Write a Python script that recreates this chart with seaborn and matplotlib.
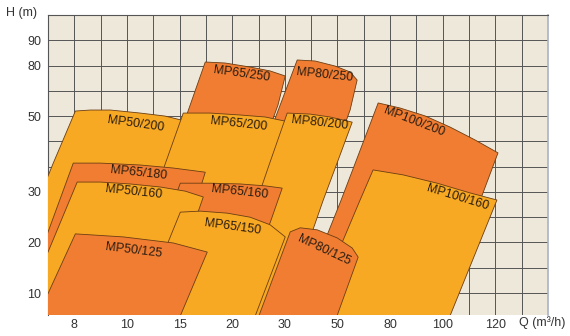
import numpy as np
import matplotlib
matplotlib.use("Agg")
import matplotlib.pyplot as plt
import seaborn as sns
from matplotlib.ticker import FixedLocator

sns.set_style("white")
plt.rcParams["font.family"] = ["Liberation Sans", "DejaVu Sans"]

# ---- axis tick values (non-linear, evenly spaced on the chart) ----
X_TICKS = [8, 10, 15, 20, 30, 50, 80, 100, 120]
Y_TICKS = [10, 20, 30, 50, 80, 90]

# scale anchors: value -> grid cell
X_ANCHOR_VAL = [7, 8, 10, 15, 20, 30, 50, 80, 100, 120, 140]
X_ANCHOR_CELL = [-1, 0, 2, 4, 6, 8, 10, 12, 14, 16, 18]
Y_ANCHOR_VAL = [5, 10, 20, 30, 50, 80, 90, 100]
Y_ANCHOR_CELL = [-1, 0, 2, 4, 7, 9, 10, 11]

# ---- pump envelopes (Q in m3/h, H in m), drawn back to front ----
MP65_250_Q = [17.44, 19.34, 23.42, 27.2, 30.15, 28.7, 16.97, 9.56]
MP65_250_H = [81.4, 81.0, 79.1, 76.8, 73.8, 56.6, 5, 5]

MP80_250_Q = [34.7, 41.5, 49.1, 57.2, 61.2, 57.2, 28.0, 16.9]
MP80_250_H = [82.2, 81.8, 79.7, 76.2, 71.4, 53.6, 5, 5]

MP100_200_Q = [73.2, 83.8, 93.3, 102.8, 112.3, 121.0, 115.3, 97.1, 33.9, 46.1, 52.1]
MP100_200_H = [57.8, 54.8, 50.1, 47.1, 43.7, 40.3, 29.8, 5, 5, 21.5, 28.4]

MP50_200_Q = [8.04, 8.61, 9.37, 11.26, 13.64, 15.54, 17.25, 16.02, 11.26, 4.81, 7.20]
MP50_200_H = [53.0, 53.6, 53.6, 51.8, 50.0, 48.7, 46.9, 36.3, 5, 5, 37.6]

MP65_200_Q = [15.35, 17.92, 21.52, 26.27, 32.05, 19.34, 9.37]
MP65_200_H = [51.8, 51.8, 50.65, 49.76, 48.4, 5, 5]

MP80_200_Q = [30.9, 39.6, 47.2, 58.4, 50.4, 44.6, 40.0, 29.7, 18.5, 27.2]
MP80_200_H = [51.8, 51.2, 49.76, 48.4, 38.4, 28.4, 21.5, 5, 5, 37.9]

MP100_160_Q = [70.3, 84.9, 97.9, 110.4, 120.6, 102.4, 39.6, 62.9]
MP100_160_H = [35.8, 34.5, 32.3, 29.8, 28.4, 5, 5, 28.4]

MP65_180_Q = [7.96, 8.99, 11.26, 14.4, 17.44, 13.16, 5.80]
MP65_180_H = [37.6, 37.6, 37.1, 36.3, 35.2, 5, 5]

MP65_160_Q = [15.07, 17.92, 21.5, 26.27, 29.5, 27.2, 19.34, 10.3]
MP65_160_H = [32.3, 32.3, 32.1, 31.6, 31.0, 23.9, 5, 5]

MP50_160_Q = [8.11, 8.99, 10.31, 13.16, 15.54, 17.25, 13.26, 5.95]
MP50_160_H = [32.6, 32.6, 32.1, 31.3, 30.2, 29.0, 5, 5]

MP65_150_Q = [15.07, 16.97, 19.53, 23.4, 27.2, 30.15, 24.2, 10.98, 13.92]
MP65_150_H = [26.0, 26.2, 25.8, 25.0, 23.5, 21.1, 5, 5, 20.1]

MP50_125_Q = [8.04, 9.86, 14.4, 17.63, 14.97, 6.56, 7.01]
MP50_125_H = [21.7, 21.1, 19.9, 18.1, 5, 5, 10]

MP80_125_Q = [32.05, 35.85, 42.3, 49.9, 58.4, 61.8, 49.5, 24.9]
MP80_125_H = [22.1, 22.9, 22.5, 20.9, 18.9, 17.1, 5, 5]

NAMES = ["MP65/250", "MP80/250", "MP100/200", "MP50/200", "MP65/200", "MP80/200",
         "MP100/160", "MP65/180", "MP65/160", "MP50/160", "MP65/150", "MP50/125",
         "MP80/125"]
KINDS = ["o", "o", "o", "y", "y", "y", "y", "o", "o", "y", "y", "o", "o"]

# label anchor points (Q, H) and text angles
LABEL_Q = [21.7, 45.3, 89.1, 10.79, 21.3, 43.4, 105.5, 11.07, 21.5, 10.69, 20.0, 10.6, 45.0]
LABEL_H = [75.0, 74.4, 48.4, 47.9, 47.9, 48.2, 28.8, 35.0, 30.0, 30.0, 23.1, 18.5, 18.5]
LABEL_ROT = [-8, -6, -21, -8, -6, -6, -17, -6, -6, -6, -8, -7, -25]

SHAPES = [
    (MP65_250_Q, MP65_250_H), (MP80_250_Q, MP80_250_H), (MP100_200_Q, MP100_200_H),
    (MP50_200_Q, MP50_200_H), (MP65_200_Q, MP65_200_H), (MP80_200_Q, MP80_200_H),
    (MP100_160_Q, MP100_160_H), (MP65_180_Q, MP65_180_H), (MP65_160_Q, MP65_160_H),
    (MP50_160_Q, MP50_160_H), (MP65_150_Q, MP65_150_H), (MP50_125_Q, MP50_125_H),
    (MP80_125_Q, MP80_125_H),
]

ORANGE = "#F07D32"
YELLOW = "#F8A923"
palette = sns.color_palette([ORANGE, YELLOW])
COLORS = {"o": palette[0], "y": palette[1]}


def piecewise(v, a, b):
    a = np.asarray(a, float)
    b = np.asarray(b, float)
    v = np.asarray(v, dtype=float)
    flat = np.atleast_1d(v).ravel().copy()
    out = np.interp(flat, a, b)
    lo = flat < a[0]
    out[lo] = b[0] + (flat[lo] - a[0]) * (b[1] - b[0]) / (a[1] - a[0])
    hi = flat > a[-1]
    out[hi] = b[-1] + (flat[hi] - a[-1]) * (b[-1] - b[-2]) / (a[-1] - a[-2])
    return out.reshape(v.shape)


fx = lambda v: piecewise(v, X_ANCHOR_VAL, X_ANCHOR_CELL)
ix = lambda v: piecewise(v, X_ANCHOR_CELL, X_ANCHOR_VAL)
fy = lambda v: piecewise(v, Y_ANCHOR_VAL, Y_ANCHOR_CELL)
iy = lambda v: piecewise(v, Y_ANCHOR_CELL, Y_ANCHOR_VAL)

fig = plt.figure(figsize=(5.7, 3.36), dpi=100)
ax = fig.add_axes([48 / 570, 21 / 336, 500 / 570, 300 / 336])
ax.set_xscale("function", functions=(fx, ix))
ax.set_yscale("function", functions=(fy, iy))
ax.set_xlim(float(ix(-1)), float(ix(18)))
ax.set_ylim(float(iy(-0.87)), float(iy(11)))
ax.set_facecolor("#EEE8DA")

ax.set_xticks(X_TICKS)
ax.set_xticklabels([str(v) for v in X_TICKS])
ax.set_yticks(Y_TICKS)
ax.set_yticklabels([str(v) for v in Y_TICKS])
ax.xaxis.set_minor_locator(FixedLocator(ix(np.arange(-1, 19))))
ax.yaxis.set_minor_locator(FixedLocator(iy(np.arange(0, 11))))
ax.tick_params(axis="x", which="both", length=0, pad=3, labelsize=9, labelcolor="#333333")
ax.tick_params(axis="y", which="major", length=3, width=0.8, color="#444444", pad=2,
               labelsize=9, labelcolor="#333333")
ax.tick_params(axis="y", which="minor", length=0)
ax.set_axisbelow(True)
ax.grid(which="both", color="#555555", linewidth=0.7)

for s in ["left", "top"]:
    ax.spines[s].set_color("#555555")
    ax.spines[s].set_linewidth(0.8)
ax.spines["right"].set_color("#A9B3C6")
ax.spines["right"].set_linewidth(1.2)
ax.spines["bottom"].set_visible(False)

for i, ((q, h), k) in enumerate(zip(SHAPES, KINDS)):
    ax.fill(q, h, facecolor=COLORS[k], edgecolor="#6B3D12", linewidth=0.6, zorder=2 + i)

for name, q, h, r in zip(NAMES, LABEL_Q, LABEL_H, LABEL_ROT):
    ax.text(q, h, name, rotation=r, rotation_mode="anchor", ha="center", va="center",
            fontsize=9, color="#2B1D12", zorder=50)

fig.text(22 / 570, 1 - 13 / 336, "H (m)", ha="center", va="center", fontsize=9, color="#333333")
fig.text(519 / 570, 1 - 323 / 336, "Q (m³/h)", ha="left", va="center", fontsize=9, color="#333333")

fig.savefig("out.png", dpi=100)
